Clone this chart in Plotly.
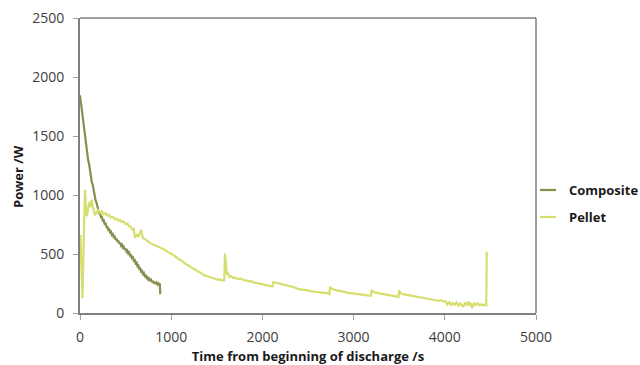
import plotly.graph_objects as go

# Composite discharge: time (s) and power (W)
composite_t = [0, 10, 20, 30, 40, 50, 60, 70, 80, 90, 100, 110, 120, 130, 140, 150,
               160, 170, 180, 190, 200, 210, 220, 230, 240, 250, 260, 270, 280, 290,
               300, 310, 320, 330, 340, 350, 360, 370, 380, 390, 400, 410, 420, 430,
               440, 450, 460, 470, 480, 490, 500, 510, 520, 530, 540, 550, 560, 570,
               580, 590, 600, 610, 620, 630, 640, 650, 660, 670, 680, 690, 700, 710,
               720, 730, 740, 750, 760, 770, 780, 790, 800, 810, 820, 830, 840, 850,
               860, 870, 875, 880]
composite_p = [1845, 1782, 1734, 1651, 1598, 1516, 1478, 1396, 1362, 1291, 1263, 1198,
               1172, 1106, 1086, 1031, 1004, 956, 938, 897, 887, 846, 845, 812, 814,
               783, 786, 756, 759, 729, 731, 705, 709, 684, 690, 661, 668, 644, 649,
               621, 631, 604, 614, 587, 597, 571, 579, 554, 561, 536, 547, 521, 529,
               503, 511, 486, 494, 466, 471, 443, 449, 421, 427, 397, 401, 374, 377,
               351, 357, 331, 339, 312, 318, 296, 303, 282, 290, 270, 280, 261, 273,
               252, 263, 246, 257, 241, 250, 236, 252, 160]

# Pellet discharge: time (s) and power (W)
pellet_t = [0, 5, 15, 28, 40, 55, 65, 75, 90, 105, 115, 128, 140, 150, 165, 180, 200,
            220, 240, 260, 280, 300, 320, 340, 360, 380, 400, 420, 440, 460, 480, 500,
            520, 540, 560, 575, 590, 603, 620, 640, 660, 669, 680, 694, 710, 730, 750,
            770, 790, 810, 830, 850, 870, 890, 910, 930, 950, 970, 990, 1010, 1030,
            1050, 1070, 1090, 1110, 1130, 1150, 1170, 1190, 1210, 1230, 1250, 1270,
            1290, 1310, 1330, 1350, 1370, 1390, 1410, 1430, 1450, 1470, 1490, 1510,
            1530, 1550, 1570, 1582, 1590, 1598, 1610, 1625, 1640, 1660, 1680, 1700,
            1730, 1760, 1790, 1820, 1850, 1880, 1910, 1940, 1970, 2000, 2030, 2060,
            2090, 2110, 2120, 2140, 2170, 2200, 2230, 2260, 2290, 2320, 2350, 2380,
            2410, 2440, 2470, 2500, 2530, 2560, 2590, 2620, 2650, 2680, 2720, 2735,
            2741, 2760, 2790, 2820, 2850, 2880, 2910, 2940, 2970, 3000, 3030, 3060,
            3090, 3120, 3150, 3180, 3190, 3198, 3215, 3240, 3270, 3300, 3330, 3360,
            3390, 3420, 3450, 3480, 3492, 3498, 3515, 3540, 3570, 3600, 3630, 3660,
            3690, 3720, 3750, 3780, 3810, 3840, 3870, 3900, 3930, 3960, 3990, 4010,
            4030, 4050, 4070, 4090, 4110, 4130, 4150, 4170, 4190, 4203, 4220, 4240,
            4258, 4275, 4290, 4300, 4320, 4340, 4360, 4380, 4400, 4420, 4440, 4455,
            4460]
pellet_p = [540, 660, 400, 125, 600, 1045, 900, 820, 885, 940, 895, 960, 905, 870, 828,
            852, 872, 850, 862, 838, 845, 825, 830, 808, 815, 795, 800, 782, 790, 770,
            775, 752, 760, 735, 728, 705, 712, 635, 668, 645, 698, 705, 662, 632, 628,
            612, 605, 592, 585, 578, 570, 560, 552, 548, 540, 536, 522, 516, 505, 498,
            488, 475, 468, 452, 446, 432, 425, 410, 402, 390, 382, 372, 365, 352, 348,
            335, 326, 318, 312, 305, 300, 298, 290, 288, 282, 284, 276, 278, 272, 505,
            420, 332, 335, 305, 312, 296, 300, 288, 292, 280, 276, 268, 270, 258, 256,
            246, 244, 236, 232, 228, 226, 262, 258, 256, 246, 244, 236, 232, 222, 218,
            206, 200, 196, 196, 188, 186, 182, 180, 176, 174, 168, 166, 160, 222, 205,
            196, 190, 188, 180, 176, 170, 168, 164, 162, 156, 154, 152, 150, 148, 146,
            196, 178, 172, 168, 166, 158, 156, 148, 146, 140, 138, 136, 192, 168, 160,
            156, 150, 148, 142, 140, 136, 130, 126, 122, 120, 114, 112, 104, 108, 96,
            100, 72, 92, 66, 84, 70, 90, 62, 80, 64, 50, 88, 70, 96, 62, 84, 40, 80,
            68, 82, 66, 74, 64, 72, 66, 520]

x_ticks = [0, 1000, 2000, 3000, 4000, 5000]
y_ticks = [0, 500, 1000, 1500, 2000, 2500]

series = [
    ("Composite", composite_t, composite_p, "#8a8d4e"),
    ("Pellet", pellet_t, pellet_p, "#d6df6e"),
]

font_family = "Open Sans, DejaVu Sans, sans-serif"
title_color = "#1a1a1a"

fig = go.Figure()
for name, t, p, color in series:
    fig.add_trace(go.Scatter(x=t, y=p, mode="lines", name=name,
                             line=dict(color=color, width=2.2)))

axis_common = dict(
    showgrid=False, zeroline=False, showline=True, linecolor="#808080", linewidth=2,
    ticks="outside", ticklen=5, tickcolor="#a0a0a0", tickwidth=1,
    tickfont=dict(family=font_family, size=14, color="#404040"),
)

fig.update_xaxes(range=[0, 5000], tickvals=x_ticks, ticklabelstandoff=5, **axis_common,
                 title=dict(text="<b>Time from beginning of discharge /s</b>",
                            font=dict(family=font_family, size=13, color=title_color),
                            standoff=15))
fig.update_yaxes(range=[0, 2500], tickvals=y_ticks, ticklabelstandoff=6, **axis_common)

# y-axis title, placed a little below the plot-area centre
fig.add_annotation(text="<b>Power /W</b>", textangle=-90, xref="paper", yref="paper",
                   x=-62 / 456, y=(313 - 177) / 295, xanchor="center", yanchor="middle",
                   showarrow=False,
                   font=dict(family=font_family, size=13, color=title_color))

# thin dark border along the top and right of the plotting area
for x0, x1, y0, y1 in [(0, 1, 1, 1), (1, 1, 0, 1)]:
    fig.add_shape(type="line", xref="paper", yref="paper", x0=x0, x1=x1, y0=y0, y1=y1,
                  line=dict(color="#404040", width=1), layer="above")

# legend: short line sample + bold label for each series
legend_rows = [(313 - 190) / 295, (313 - 217) / 295]
for (name, _, _, color), ly in zip(series, legend_rows):
    fig.add_shape(type="line", xref="paper", yref="paper",
                  x0=460 / 456, x1=476 / 456, y0=ly, y1=ly,
                  line=dict(color=color, width=2.2))
    fig.add_annotation(text=f"<b>{name}</b>", xref="paper", yref="paper",
                       x=487 / 456, y=ly, xanchor="left", yanchor="middle",
                       showarrow=False,
                       font=dict(family=font_family, size=13, color=title_color))

fig.update_layout(
    width=640, height=365,
    margin=dict(l=80, r=104, t=18, b=52, autoexpand=False),
    paper_bgcolor="white", plot_bgcolor="white",
    showlegend=False,
)

fig.write_html("out.html")
